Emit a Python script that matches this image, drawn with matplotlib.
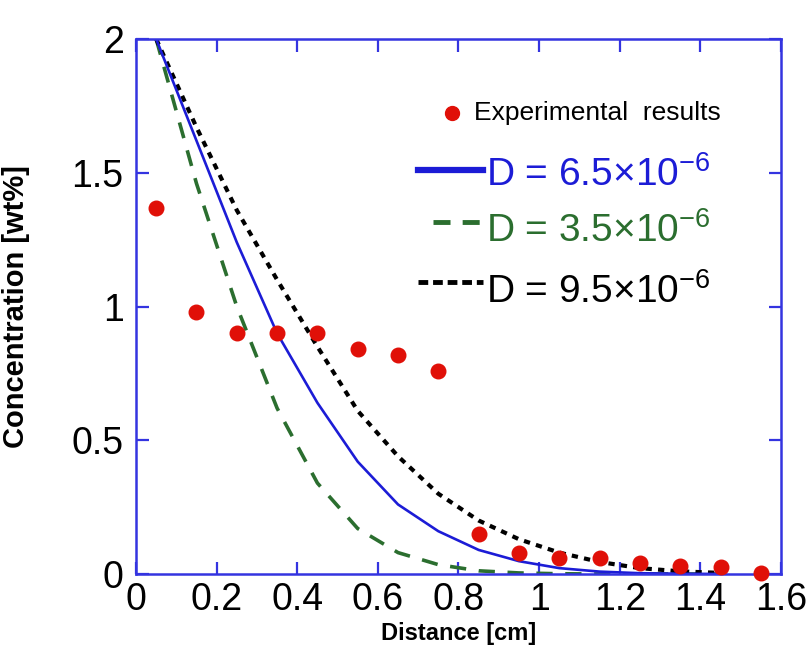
import numpy as np
import matplotlib.pyplot as plt

plt.rcParams['font.family'] = ['Liberation Sans', 'DejaVu Sans']
plt.rcParams['mathtext.fontset'] = 'custom'
plt.rcParams['mathtext.rm'] = 'Liberation Sans'

# experimental points
dist_exp = [0.05, 0.15, 0.25, 0.35, 0.45, 0.55, 0.65, 0.75,
            0.85, 0.95, 1.05, 1.15, 1.25, 1.35, 1.45, 1.55]
conc_exp = [1.37, 0.98, 0.90, 0.90, 0.90, 0.84, 0.82, 0.76,
            0.15, 0.08, 0.06, 0.06, 0.04, 0.03, 0.025, 0.005]

# fitted curves
dist_fit = [0.05, 0.15, 0.25, 0.35, 0.45, 0.55, 0.65, 0.75,
            0.85, 0.95, 1.05, 1.15, 1.25, 1.35, 1.45]
conc_D65 = [2.0, 1.62, 1.24, 0.90, 0.64, 0.42, 0.26, 0.16,
            0.09, 0.048, 0.022, 0.009, 0.003, 0.001, 0.0]
conc_D35 = [2.0, 1.46, 1.00, 0.62, 0.34, 0.17, 0.08, 0.035,
            0.012, 0.004, 0.001, 0.0, 0.0, 0.0, 0.0]
conc_D95 = [2.0, 1.67, 1.36, 1.10, 0.85, 0.61, 0.44, 0.30,
            0.20, 0.13, 0.08, 0.045, 0.022, 0.01, 0.004]

blue = '#1c1cd6'
green = '#2b6e2f'
red = '#e01008'
axcol = '#3434e0'

fig = plt.figure(figsize=(8.11, 6.61), dpi=100)
ax = fig.add_axes([0.1677, 0.1316, 0.7953, 0.8094])

ax.plot(dist_fit, conc_D35, color=green, lw=2.6, dashes=(4.5, 3.5))
ax.plot(dist_fit, conc_D95, color='black', lw=3.0, dashes=(1.5, 1.5))
ax.plot(dist_fit, conc_D65, color=blue, lw=1.9)
ax.scatter(dist_exp, conc_exp, s=110, color=red, zorder=5, clip_on=False)

ax.set_xlim(0, 1.6)
ax.set_ylim(0, 2)
ax.set_xticks(np.arange(0, 1.61, 0.2))
ax.set_xticklabels(['0', '0.2', '0.4', '0.6', '0.8', '1', '1.2', '1.4', '1.6'])
ax.set_yticks([0, 0.5, 1, 1.5, 2])
ax.set_yticklabels(['0', '0.5', '1', '1.5', '2'])
ax.tick_params(direction='in', length=9, width=1.6, color=axcol,
               top=True, right=True, labelsize=27, pad=6)
ax.tick_params(axis='y', pad=9)
for s in ax.spines.values():
    s.set_color(axcol)
    s.set_linewidth(1.8)

ax.set_xlabel('Distance [cm]', fontsize=17, fontweight='bold')
ax.set_ylabel('Concentration [wt%]', fontsize=21, fontweight='bold')
ax.xaxis.set_label_coords(0.5, -0.09)
ax.yaxis.set_label_coords(-0.165, 0.5)

# legend drawn by hand
tr = ax.transAxes
ax.plot([0.490], [0.862], 'o', color=red, ms=10, transform=tr)
ax.text(0.524, 0.862, 'Experimental  results', fontsize=19, va='center', transform=tr)
ax.plot([0.437, 0.538], [0.755, 0.755], color=blue, lw=4.5, transform=tr)
ax.text(0.543, 0.745, r'D = 6.5$\times$10$^{\mathregular{-6}}$', fontsize=28,
        color=blue, va='center', transform=tr)
ax.plot([0.460, 0.538], [0.658, 0.658], color=green, lw=3.5, dashes=(3.5, 2.5), transform=tr)
ax.text(0.543, 0.641, r'D = 3.5$\times$10$^{\mathregular{-6}}$', fontsize=28,
        color=green, va='center', transform=tr)
ax.plot([0.437, 0.538], [0.546, 0.546], color='black', lw=3.5, dashes=(2.0, 1.0), transform=tr)
ax.text(0.543, 0.528, r'D = 9.5$\times$10$^{\mathregular{-6}}$', fontsize=28,
        color='black', va='center', transform=tr)

fig.savefig('out.png', dpi=100)
